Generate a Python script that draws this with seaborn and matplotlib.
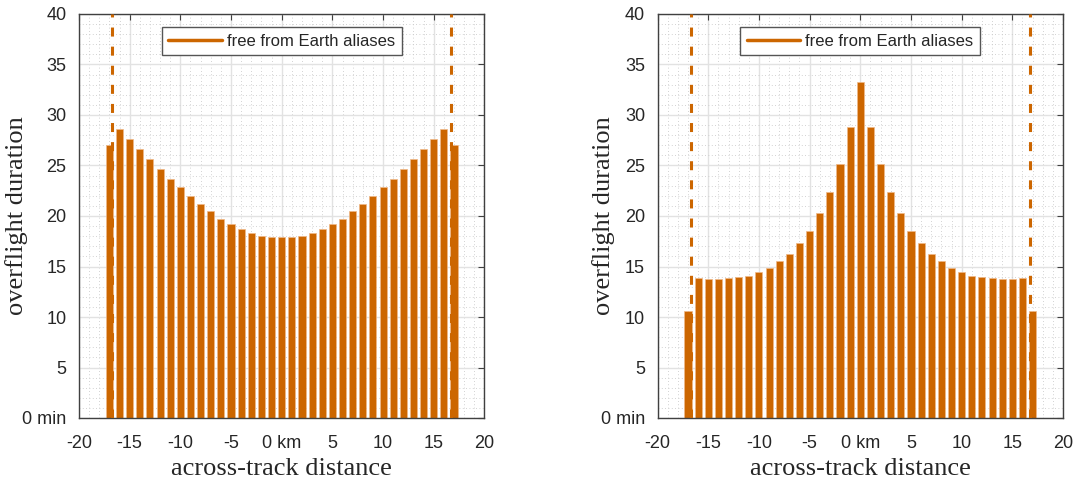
import numpy as np
import pandas as pd
import matplotlib
matplotlib.use("Agg")
import matplotlib.pyplot as plt
from matplotlib.lines import Line2D
from matplotlib.ticker import MultipleLocator
import seaborn as sns

# ── Data ───────────────────────────────────────────────────────
DISTANCE_KM = [-17, -16, -15, -14, -13, -12, -11, -10, -9, -8, -7, -6, -5, -4, -3, -2, -1,
               0, 1, 2, 3, 4, 5, 6, 7, 8, 9, 10, 11, 12, 13, 14, 15, 16, 17]

DURATION_LEFT = [27.0, 28.6, 27.6, 26.6, 25.6, 24.65, 23.65, 22.85, 21.95, 21.2, 20.5, 19.75,
                 19.2, 18.7, 18.35, 18.05, 17.9, 17.9, 17.9, 18.05, 18.35, 18.7, 19.2, 19.75,
                 20.5, 21.2, 21.95, 22.85, 23.65, 24.65, 25.6, 26.6, 27.6, 28.6, 27.0]

DURATION_RIGHT = [10.6, 13.85, 13.8, 13.8, 13.85, 13.95, 14.1, 14.45, 14.9, 15.5, 16.25, 17.3,
                  18.5, 20.25, 22.4, 25.15, 28.8, 33.3, 28.8, 25.15, 22.4, 20.25, 18.5, 17.3,
                  16.25, 15.5, 14.9, 14.45, 14.1, 13.95, 13.85, 13.8, 13.8, 13.85, 10.6]

ALIAS_LIMIT_KM = [-16.75, 16.75]
LEGEND_LABEL = "free from Earth aliases"

X_TICKS = [-20, -15, -10, -5, 0, 5, 10, 15, 20]
X_TICK_LABELS = ["-20", "-15", "-10", "-5", "0 km", "5", "10", "15", "20"]
Y_TICKS = [0, 5, 10, 15, 20, 25, 30, 35, 40]
Y_TICK_LABELS = ["0 min", "5", "10", "15", "20", "25", "30", "35", "40"]

ORANGE = "#CC6600"
EDGE = "#404040"

sns.set_style("white")
plt.rcParams["font.family"] = ["Liberation Sans", "DejaVu Sans"]


def draw_panel(ax, values, ylabel_x):
    df = pd.DataFrame({"km": DISTANCE_KM, "duration": values})
    sns.barplot(data=df, x="km", y="duration", native_scale=True, width=0.7,
                color=ORANGE, saturation=1, edgecolor="#F0B888", linewidth=0.5, ax=ax)
    for xv in ALIAS_LIMIT_KM:
        ax.axvline(xv, color=ORANGE, lw=2.2, dashes=(2.95, 3.3), zorder=3)

    ax.set_xlim(-20, 20)
    ax.set_ylim(0, 40)
    ax.set_xticks(X_TICKS)
    ax.set_xticklabels(X_TICK_LABELS)
    ax.set_yticks(Y_TICKS)
    ax.set_yticklabels(Y_TICK_LABELS)
    ax.xaxis.set_minor_locator(MultipleLocator(1))
    ax.yaxis.set_minor_locator(MultipleLocator(1))

    ax.set_axisbelow(True)
    ax.grid(which="major", color="#E2E2E2", lw=1.0, ls="-")
    ax.grid(which="minor", color="#C4C4C4", lw=0.6, ls=(0, (1, 3)))

    ax.tick_params(which="major", direction="in", length=4, width=0.8, color=EDGE,
                   top=True, right=True, labelsize=13, labelcolor="#262626")
    ax.tick_params(which="major", axis="x", pad=12)
    ax.tick_params(which="major", axis="y", pad=9)
    ax.tick_params(which="minor", length=0)
    for sp in ax.spines.values():
        sp.set_color(EDGE)
        sp.set_linewidth(1.0)

    ax.set_xlabel("across-track distance", family="Liberation Serif", fontsize=19)
    ax.xaxis.set_label_coords(0.5, -0.1)
    ax.set_ylabel("overflight duration", family="Liberation Serif", fontsize=19)
    ax.yaxis.set_label_coords(ylabel_x, 0.5)

    handle = Line2D([], [], color=ORANGE, lw=2.5)
    leg = ax.legend(handles=[handle], labels=[LEGEND_LABEL], loc="upper center",
                    bbox_to_anchor=(0.5, 0.968), borderaxespad=0, fancybox=False,
                    framealpha=1, edgecolor="#555555", fontsize=12, handlelength=3.2,
                    handletextpad=0.3, borderpad=0.4)
    leg.get_frame().set_linewidth(1.0)


fig, axes = plt.subplots(1, 2, figsize=(10.75, 4.82), dpi=100)
fig.subplots_adjust(left=79 / 1075, right=1063 / 1075, bottom=64 / 482,
                    top=1 - 14 / 482, wspace=173 / 405)

draw_panel(axes[0], DURATION_LEFT, -0.126)
draw_panel(axes[1], DURATION_RIGHT, -0.104)

fig.savefig("out.png", dpi=100)
